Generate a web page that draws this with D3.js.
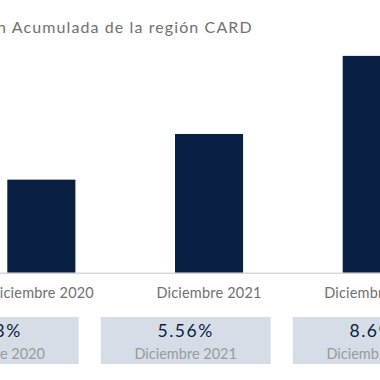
<!DOCTYPE html>
<html>
<head>
<meta charset="utf-8">
<script src="https://cdn.jsdelivr.net/npm/d3@7"></script>
<style>
  body { margin: 0; background: #fff; }
  svg { display: block; font-family: "Lato", sans-serif; }
</style>
</head>
<body>
<div id="chart"></div>
<script>

/* DATA */
const periods = ["Diciembre 2020", "Diciembre 2021", "Diciembre 2022"];
const inflation = [3.73, 5.56, 8.69];
const cardLabels = ["3.73%", "5.56%", "8.69%"];
const title = "Inflación Acumulada de la región CARD";

/* CONSTANTS */
const width = 380;
const height = 380;
const baseY = 272.7;

const navy = "#0a1f44";
const grey = "#707070";

const svg = d3.select("#chart")
  .append("svg")
  .attr("width", width)
  .attr("height", height);

// SCALES =================================================
const xScale = d3.scaleBand()
  .domain(periods)
  .range([-42.5, 460.6])
  .paddingInner(0.594)
  .paddingOuter(0.297);

const yScale = d3.scaleLinear()
  .domain([0, 10])
  .range([baseY, baseY - 249.5]);

const cardScale = d3.scaleBand()
  .domain(periods)
  .range([-102.3, 473.7])
  .paddingInner(0.1146)
  .paddingOuter(0.0573);

// title
svg.append("text")
  .attr("x", 252.7)
  .attr("y", 32.7)
  .attr("text-anchor", "end")
  .style("font-size", "16px")
  .style("letter-spacing", "1.1px")
  .attr("fill", grey)
  .text(title);

// bars
svg.selectAll("rect.bar")
  .data(inflation)
  .join("rect")
  .attr("class", "bar")
  .attr("x", (_, i) => xScale(periods[i]))
  .attr("width", xScale.bandwidth())
  .attr("y", d => yScale(d))
  .attr("height", d => baseY - yScale(d))
  .attr("fill", navy);

// baseline
svg.append("line")
  .attr("x1", 0)
  .attr("x2", width)
  .attr("y1", baseY + 0.5)
  .attr("y2", baseY + 0.5)
  .attr("stroke", "#c4c4c4")
  .attr("stroke-width", 1);

// x axis labels
const xAxis = d3.axisBottom(xScale).tickSize(0).tickPadding(0);
svg.append("g")
  .attr("transform", `translate(0, ${baseY})`)
  .call(xAxis)
  .call(g => g.select(".domain").remove())
  .call(g => g.selectAll("text")
    .attr("dy", null)
    .attr("y", 25.5)
    .attr("fill", grey)
    .style("font-family", "Lato, sans-serif")
    .style("font-size", "14.5px")
    .style("letter-spacing", "0.2px"));

// summary cards ============================================
const cards = svg.selectAll("g.card")
  .data(periods)
  .join("g")
  .attr("class", "card")
  .attr("transform", d => `translate(${cardScale(d)}, 317)`);

cards.append("rect")
  .attr("width", cardScale.bandwidth())
  .attr("height", 47)
  .attr("fill", "#d6dde6");

cards.append("text")
  .attr("x", cardScale.bandwidth() / 2)
  .attr("y", 20.3)
  .attr("text-anchor", "middle")
  .style("font-size", "17.5px")
  .style("letter-spacing", "1.6px")
  .attr("fill", navy)
  .text((_, i) => cardLabels[i]);

cards.append("text")
  .attr("x", cardScale.bandwidth() / 2)
  .attr("y", 42.3)
  .attr("text-anchor", "middle")
  .style("font-size", "14.5px")
  .attr("fill", "#9a9a9a")
  .text(d => d);

</script>
</body>
</html>
